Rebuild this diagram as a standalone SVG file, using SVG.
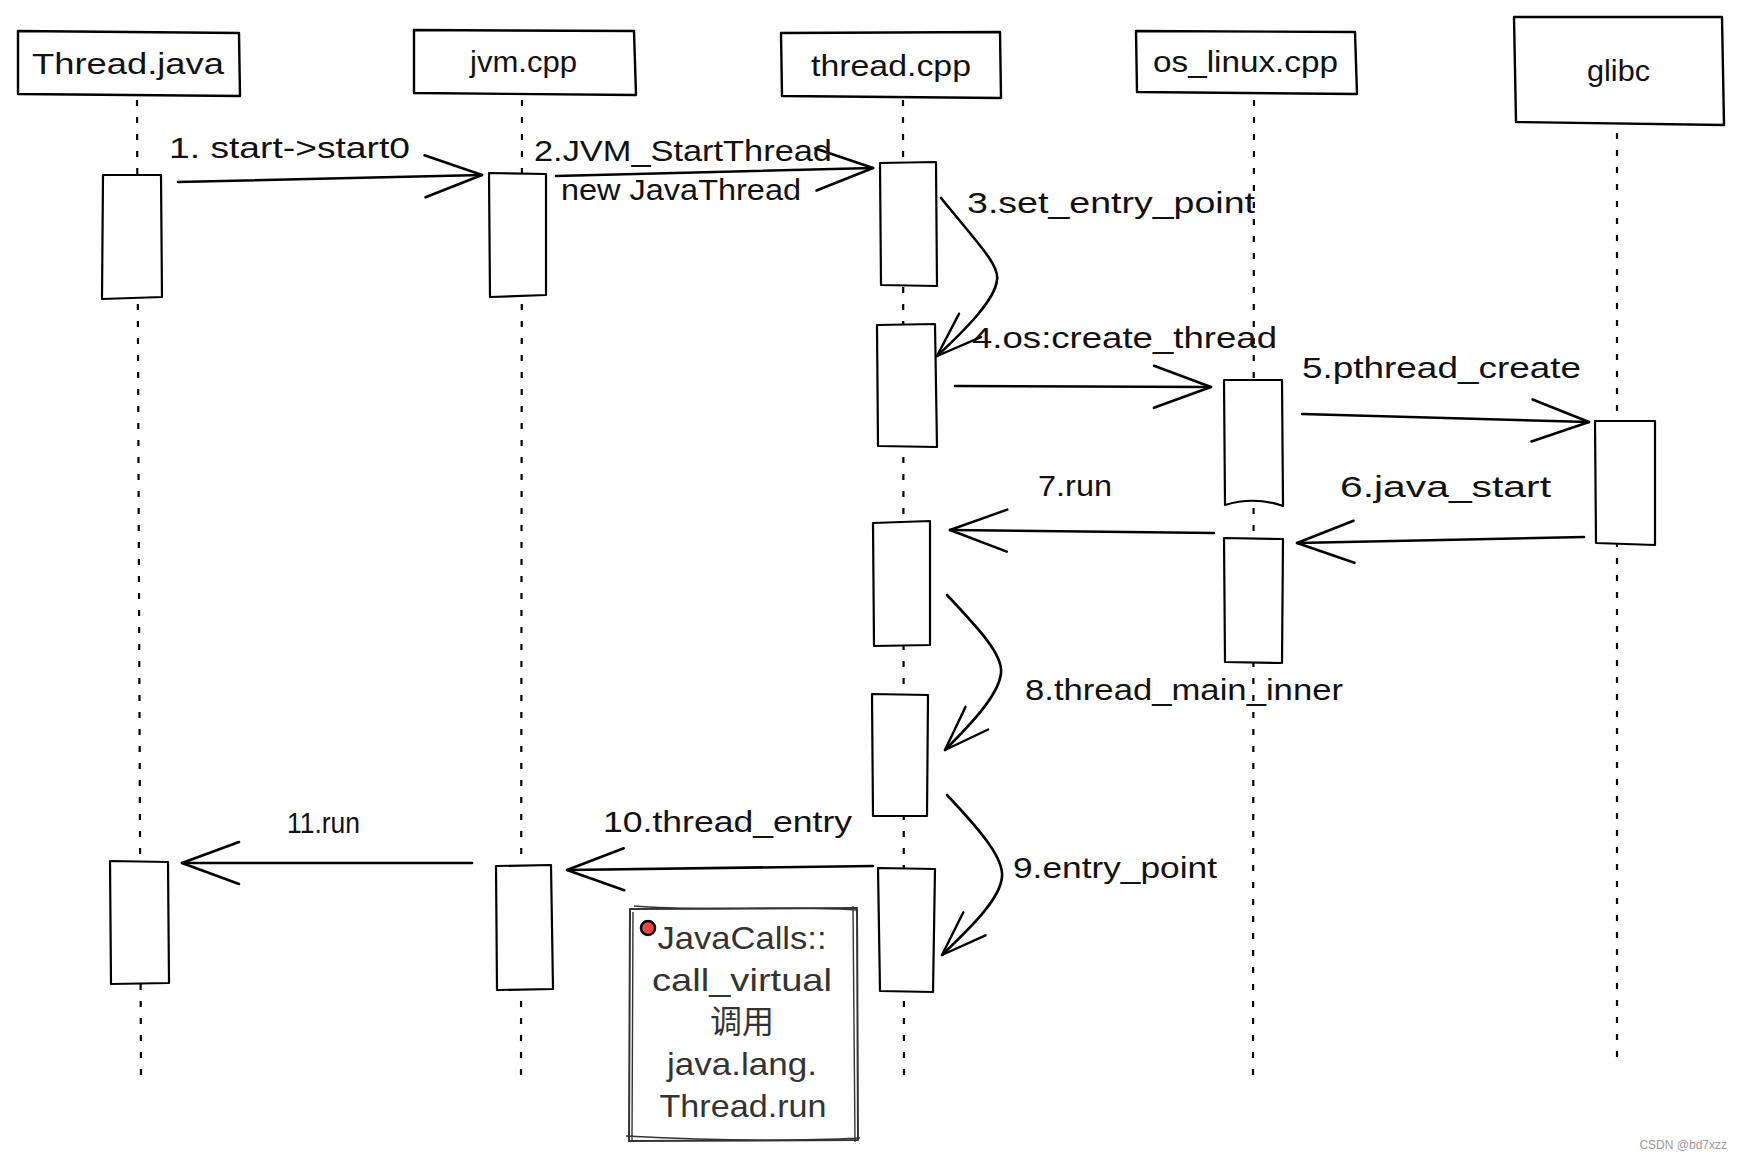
<svg xmlns="http://www.w3.org/2000/svg" width="1742" height="1160" viewBox="0 0 1742 1160">
<style>
.hdr{fill:#fff;stroke:#000;stroke-width:2.4;stroke-linejoin:round}
.act{fill:#fff;stroke:#000;stroke-width:2.2;stroke-linejoin:round}
.life{fill:none;stroke:#000;stroke-width:2.2;stroke-dasharray:6 11}
.msg{fill:none;stroke:#000;stroke-width:2.6;stroke-linecap:round;stroke-linejoin:round}
.t{font-family:"Liberation Sans",Arial,sans-serif;font-size:30px;fill:#111}
.n{font-family:"Liberation Sans","Noto Sans CJK SC",Arial,sans-serif;font-size:32px;fill:#333;text-anchor:middle}
.note{fill:#fff;stroke:#333;stroke-width:2;stroke-linejoin:round}
.wm{font-family:"Liberation Sans",Arial,sans-serif;font-size:12px;fill:#999;text-anchor:end}
</style>
<defs>
<marker id="ah" markerUnits="userSpaceOnUse" markerWidth="80" markerHeight="60" viewBox="-70 -30 80 60" refX="0" refY="0" orient="auto" overflow="visible">
<path d="M-57,-21 L0,0 L-57,21" fill="none" stroke="#000" stroke-width="2.6" stroke-linecap="round" stroke-linejoin="round"/>
</marker>
<marker id="ahc" markerUnits="userSpaceOnUse" markerWidth="60" markerHeight="40" viewBox="-55 -20 60 40" refX="0" refY="0" orient="auto" overflow="visible">
<path d="M-45,-16 L0,0 L-45,16" fill="none" stroke="#000" stroke-width="2.4" stroke-linecap="round" stroke-linejoin="round"/>
</marker>
</defs>
<rect width="1742" height="1160" fill="#fff"/>

<g id="thread_java">
<path class="life" d="M137,100 L141,1075"/>
<path class="hdr" d="M18,31 L239,33 L240,96 L18,94 Z"/>
<text class="t" x="32" y="74" textLength="192" lengthAdjust="spacingAndGlyphs">Thread.java</text>
<path class="act" d="M103,175 L161,175 L162,297 L102,299 Z"/>
<path class="act" d="M110,861 L168,862 L169,983 L111,984 Z"/>
</g>

<g id="jvm_cpp">
<path class="life" d="M522,100 L521,1075"/>
<path class="hdr" d="M414,30 L634,31 L636,95 L414,93 Z"/>
<text class="t" x="470" y="72" textLength="107" lengthAdjust="spacingAndGlyphs">jvm.cpp</text>
<path class="act" d="M489,173 L546,174 L546,295 L490,297 Z"/>
<path class="act" d="M496,866 L551,865 L553,989 L497,990 Z"/>
</g>

<g id="thread_cpp">
<path class="life" d="M903,100 L904,1075"/>
<path class="hdr" d="M781,33 L1000,32 L1001,98 L782,96 Z"/>
<text class="t" x="811" y="76" textLength="160" lengthAdjust="spacingAndGlyphs">thread.cpp</text>
<path class="act" d="M880,163 L936,162 L937,286 L881,285 Z"/>
<path class="act" d="M877,325 L935,324 L937,447 L878,446 Z"/>
<path class="act" d="M873,523 L930,521 L930,645 L874,646 Z"/>
<path class="act" d="M872,694 L928,695 L927,816 L873,816 Z"/>
<path class="act" d="M878,868 L935,869 L933,992 L880,991 Z"/>
</g>

<g id="os_linux_cpp">
<path class="life" d="M1254,100 L1253,1076"/>
<path class="hdr" d="M1136,31 L1355,32 L1357,94 L1137,92 Z"/>
<text class="t" x="1153" y="72" textLength="185" lengthAdjust="spacingAndGlyphs">os_linux.cpp</text>
<path class="act" d="M1224,380 L1282,380 L1283,506 Q1254,496 1225,505 Z"/>
<path class="act" d="M1224,538 L1283,539 L1282,663 L1225,662 Z"/>
</g>

<g id="glibc">
<path class="life" d="M1617,133 L1617,1067"/>
<path class="hdr" d="M1514,17 L1722,17 L1724,125 L1516,122 Z"/>
<text class="t" x="1587" y="81" textLength="63" lengthAdjust="spacingAndGlyphs">glibc</text>
<path class="act" d="M1595,421 L1655,421 L1655,545 L1596,543 Z"/>
</g>

<g id="note">
<path class="note" d="M630,909 L857,908 L858,1140 L629,1141 Z"/>
<path fill="none" stroke="#333" stroke-width="1.4" d="M634,906 C700,912 780,905 856,910 M626,1136 C700,1140 780,1142 860,1138 M633,912 L632,1140 M853,906 L855,1142"/>
<circle cx="648" cy="928" r="7" fill="#f44" stroke="#000" stroke-width="2.5"/>
<text class="n" x="742" y="949" textLength="169" lengthAdjust="spacingAndGlyphs">JavaCalls::</text>
<text class="n" x="742" y="991" textLength="180" lengthAdjust="spacingAndGlyphs">call_virtual</text>
<text class="n" x="742" y="1033" font-family="Noto Sans CJK SC, sans-serif" font-size="30">调用</text>
<text class="n" x="742" y="1075" textLength="150" lengthAdjust="spacingAndGlyphs">java.lang.</text>
<text class="n" x="743" y="1117" textLength="167" lengthAdjust="spacingAndGlyphs">Thread.run</text>
</g>

<g id="connectors">
<g id="m1"><path class="msg" d="M178,182 L482,175" marker-end="url(#ah)"/>
<text class="t" x="169" y="158" textLength="241" lengthAdjust="spacingAndGlyphs">1. start-&gt;start0</text></g>
<g id="m2"><path class="msg" d="M556,176 L873,168" marker-end="url(#ah)"/>
<text class="t" x="534" y="161" textLength="298" lengthAdjust="spacingAndGlyphs">2.JVM_StartThread</text>
<text class="t" x="561" y="200" textLength="240" lengthAdjust="spacingAndGlyphs">new JavaThread</text></g>
<g id="m3"><path class="msg" d="M941,198 C975,240 1000,265 997,280 C995,300 965,330 937,356" marker-end="url(#ahc)"/>
<text class="t" x="967" y="213" textLength="288" lengthAdjust="spacingAndGlyphs">3.set_entry_point</text></g>
<g id="m4"><path class="msg" d="M955,386 L1211,387" marker-end="url(#ah)"/>
<text class="t" x="972" y="348" textLength="305" lengthAdjust="spacingAndGlyphs">4.os:create_thread</text></g>
<g id="m5"><path class="msg" d="M1302,414 L1589,422" marker-end="url(#ah)"/>
<text class="t" x="1302" y="378" textLength="279" lengthAdjust="spacingAndGlyphs">5.pthread_create</text></g>
<g id="m6"><path class="msg" d="M1584,537 L1297,543" marker-end="url(#ah)"/>
<text class="t" x="1340" y="497" textLength="211" lengthAdjust="spacingAndGlyphs">6.java_start</text></g>
<g id="m7"><path class="msg" d="M1214,533 L950,530" marker-end="url(#ah)"/>
<text class="t" x="1038" y="496" textLength="74" lengthAdjust="spacingAndGlyphs">7.run</text></g>
<g id="m8"><path class="msg" d="M947,595 C980,630 1003,655 1001,673 C999,695 970,725 945,750" marker-end="url(#ahc)"/>
<text class="t" x="1025" y="700" textLength="318" lengthAdjust="spacingAndGlyphs">8.thread_main_inner</text></g>
<g id="m9"><path class="msg" d="M947,795 C980,830 1004,858 1002,877 C1000,900 968,930 942,955" marker-end="url(#ahc)"/>
<text class="t" x="1013" y="878" textLength="204" lengthAdjust="spacingAndGlyphs">9.entry_point</text></g>
<g id="m10"><path class="msg" d="M873,866 L567,870" marker-end="url(#ah)"/>
<text class="t" x="603" y="832" textLength="249" lengthAdjust="spacingAndGlyphs">10.thread_entry</text></g>
<g id="m11"><path class="msg" d="M472,863 L182,863" marker-end="url(#ah)"/>
<text class="t" x="287" y="833" textLength="73" lengthAdjust="spacingAndGlyphs" fill="#3a3a3a">11.run</text></g>
</g>

<text class="wm" x="1727" y="1149">CSDN @bd7xzz</text>
</svg>
